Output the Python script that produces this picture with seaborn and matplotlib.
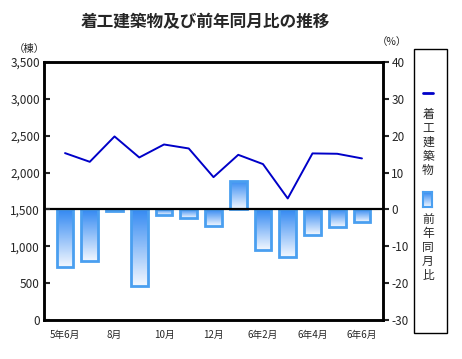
import numpy as np
import pandas as pd
import matplotlib
matplotlib.use("Agg")
import matplotlib.pyplot as plt
import matplotlib.patches as mpatches
from matplotlib.lines import Line2D
from matplotlib.ticker import FuncFormatter
import seaborn as sns

sns.set_style("white")
plt.rcParams['font.family'] = ['Noto Sans CJK JP', 'DejaVu Sans']
plt.rcParams['axes.unicode_minus'] = False

# data
months = ["5年6月", "7月", "8月", "9月", "10月", "11月", "12月",
          "6年1月", "6年2月", "3月", "6年4月", "5月", "6年6月"]
tick_labels = ["5年6月", "", "8月", "", "10月", "", "12月",
               "", "6年2月", "", "6年4月", "", "6年6月"]
starts = [2264, 2146, 2490, 2205, 2381, 2327, 1938, 2241, 2115, 1649, 2260, 2255, 2192]
yoy = [-15.5, -13.9, -0.3, -20.9, -1.6, -2.4, -4.4, 7.6, -10.9, -12.8, -6.9, -4.7, -3.5]

df = pd.DataFrame({"month": months, "idx": np.arange(len(months)),
                   "starts": starts, "yoy": yoy})

line_col = "#0000C8"
edge_col = "#4A9FF0"
grad = np.linspace(0, 1, 64).reshape(-1, 1)
cmap = matplotlib.colors.LinearSegmentedColormap.from_list(
    "bg", ["#3389F2", "#F2F7FF"])

fig = plt.figure(figsize=(4.62, 3.59), dpi=100)
ax = fig.add_axes([44/462, 1-320/359, 339/462, 258/359])
ax2 = ax.twinx()

# bars on the right (%) axis
sns.barplot(data=df, x="month", y="yoy", ax=ax2, width=0.67,
            facecolor="none", edgecolor=edge_col, linewidth=2)
for p in ax2.patches:
    x0, y0 = p.get_x(), p.get_y()
    w, h = p.get_width(), p.get_height()
    top, bot = max(y0, y0 + h), min(y0, y0 + h)
    im = ax2.imshow(grad, cmap=cmap, aspect="auto",
                    extent=[x0, x0 + w, bot, top], zorder=1, origin="upper")
    im.set_clip_path(p)
    p.set_zorder(2)
ax2.axhline(0, color="black", lw=1.6, zorder=3)
ax2.set_ylim(-30, 40)
ax2.set_yticks(range(-30, 41, 10))
ax2.set_ylabel("")

# line on the left axis
sns.lineplot(data=df, x="idx", y="starts", ax=ax, color=line_col, lw=1.4)
ax.set_ylim(0, 3500)
ax.set_yticks(range(0, 3501, 500))
ax.yaxis.set_major_formatter(FuncFormatter(lambda v, _: f"{int(v):,}"))
ax.set_zorder(ax2.get_zorder() + 1)
ax.patch.set_visible(False)

for a in (ax, ax2):
    a.set_xlim(-0.85, 12.85)
    for s in a.spines.values():
        s.set_linewidth(1.8)
        s.set_color("black")
ax.set_xticks(range(len(months)))
ax.set_xticklabels(tick_labels, fontsize=7)
ax.set_xlabel("")
ax.set_ylabel("")
ax.tick_params(axis="x", direction="out", length=4, width=1.5, pad=3)
ax.tick_params(axis="y", direction="in", length=4, width=1.5, labelsize=8.5, pad=3)
ax2.tick_params(axis="y", direction="out", length=4, width=1.5, labelsize=8.5, pad=2)
ax2.tick_params(axis="x", length=0)

fig.text(205/462, 1-22/359, "着工建築物及び前年同月比の推移", ha="center",
         va="center", fontsize=12, fontweight="bold")
fig.text(29/462, 1-49/359, "（棟）", ha="center", va="center", fontsize=7.5)
fig.text(392/462, 1-42/359, "（%）", ha="center", va="center", fontsize=7.5)

# legend box drawn by hand (vertical text)
fig.patches.append(mpatches.Rectangle((414/462, 1-333/359), 33/462, 284/359,
                                      transform=fig.transFigure, fill=False,
                                      edgecolor="black", lw=1))
fig.lines.append(Line2D([423/462, 433/462], [1-93/359, 1-93/359],
                        transform=fig.transFigure, color=line_col, lw=2))
fig.text(428/462, 1-108/359, "\n".join("着工建築物"), ha="center", va="top",
         fontsize=8.5, linespacing=1.1)
lax = fig.add_axes([423/462, 1-207/359, 9/462, 15/359])
lax.imshow(grad, cmap=cmap, aspect="auto")
lax.set_xticks([])
lax.set_yticks([])
for s in lax.spines.values():
    s.set_color(edge_col)
    s.set_linewidth(1.5)
fig.text(428/462, 1-213/359, "\n".join("前年同月比"), ha="center", va="top",
         fontsize=8.5, linespacing=1.1)

fig.savefig("out.png", dpi=100)
